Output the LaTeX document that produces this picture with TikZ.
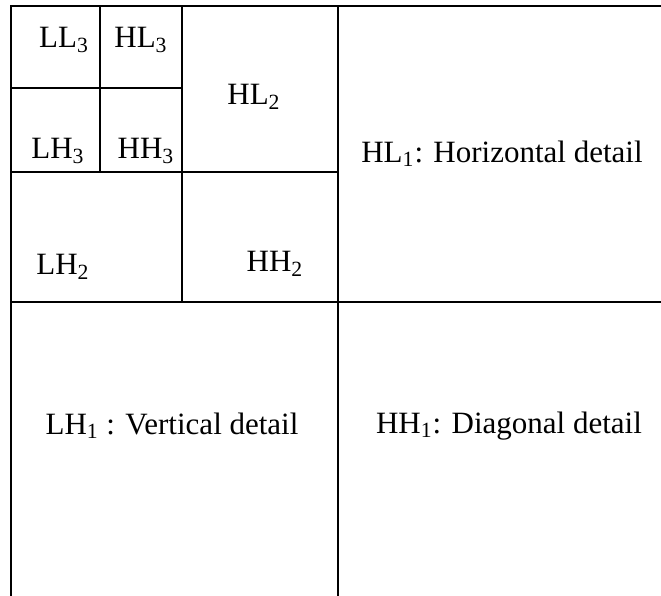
\documentclass[tikz,border=0pt]{standalone}
\usepackage{fontspec}
\setmainfont{Liberation Serif}
\begin{document}
\begin{tikzpicture}[x=0.5pt,y=-0.5pt,
    band/.style={font=\fontsize{15.5}{18}\selectfont, inner sep=0pt}]
        \useasboundingbox (0,0) rectangle (661,596);

        % Outer frame (cut at right and bottom)
        \draw[line width=1pt] (661,6) -- (11,6) -- (11,596);

        % Level 1 split
        \draw[line width=1pt] (338,6) -- (338,596);
        \draw[line width=1pt] (11,302) -- (661,302);

        % Level 2 split
        \draw[line width=1pt] (182,6) -- (182,302);
        \draw[line width=1pt] (11,172) -- (338,172);

        % Level 3 split
        \draw[line width=1pt] (100,6) -- (100,172);
        \draw[line width=1pt] (11,88) -- (182,88);

        % Labels for level 3
        \node[band] (ll3) at (64,40) {LL\textsubscript{3}};
        \node[band] (hl3) at (141,40) {HL\textsubscript{3}};
        \node[band] (lh3) at (58,151) {LH\textsubscript{3}};
        \node[band] (hh3) at (146,151) {HH\textsubscript{3}};

        % Labels for level 2
        \node[band] (hl2) at (254,97) {HL\textsubscript{2}};
        \node[band] (lh2) at (63,267) {LH\textsubscript{2}};
        \node[band] (hh2) at (275,264) {HH\textsubscript{2}};

        % Labels for level 1
        \node[band] (hl1) at (502,154) {HL\textsubscript{1}: Horizontal detail};
        \node[band] (lh1) at (172,426) {LH\textsubscript{1} : Vertical detail};
        \node[band] (hh1) at (509,426) {HH\textsubscript{1}: Diagonal detail};
    \end{tikzpicture}
\end{document}
